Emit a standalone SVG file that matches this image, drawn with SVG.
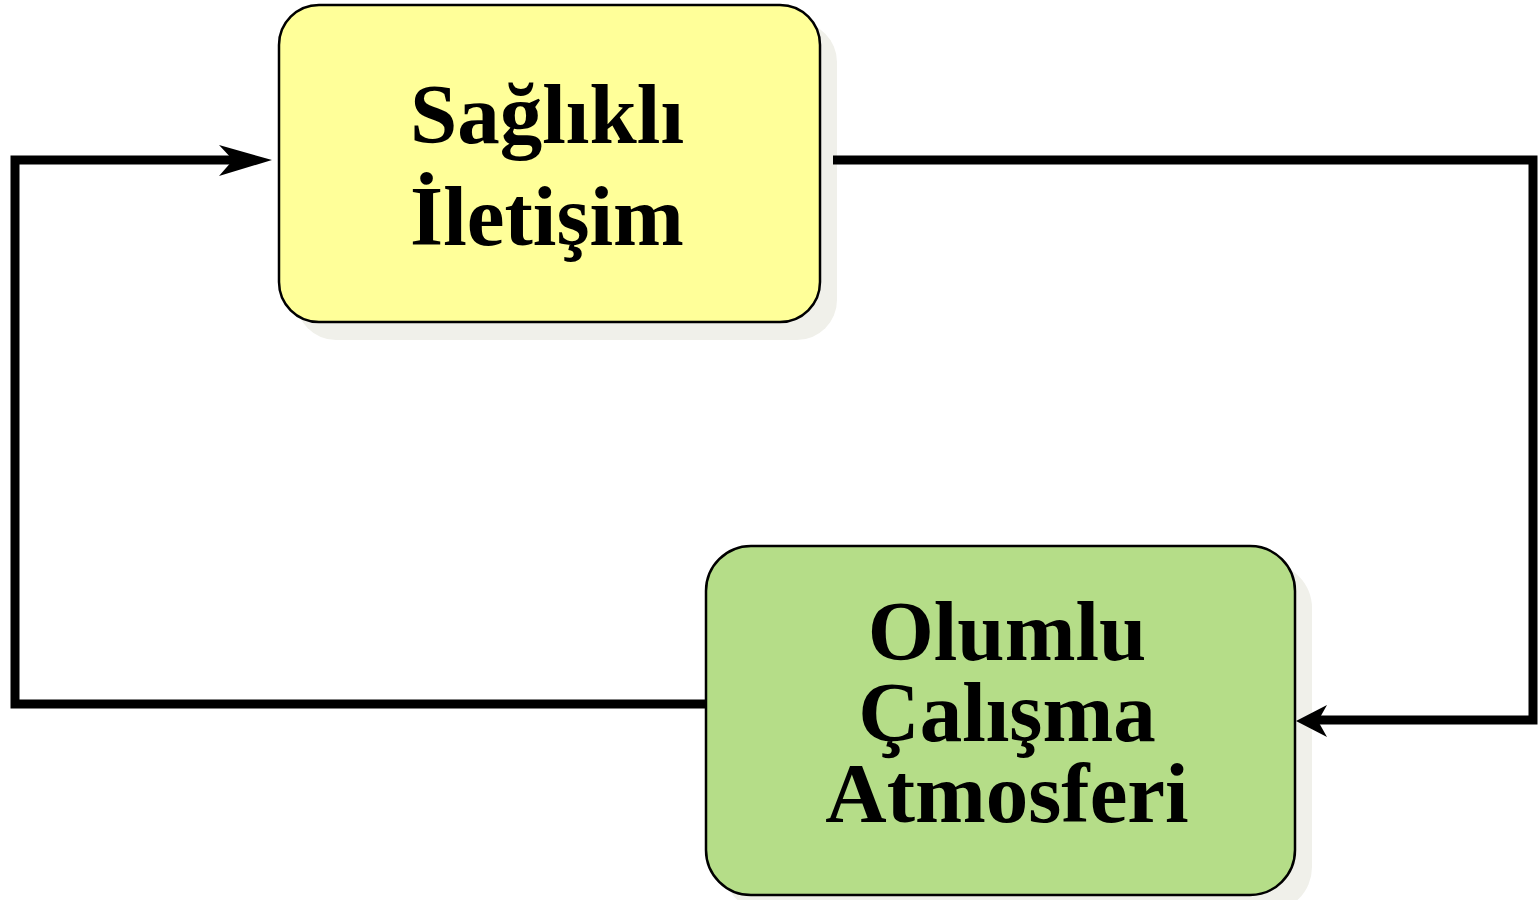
<svg xmlns="http://www.w3.org/2000/svg" width="1540" height="900" viewBox="0 0 1540 900">
  <defs>
    <style>
      .shadow { fill: #f0f0ea; stroke: none; }
      .box { stroke: #000; stroke-width: 2.5; }
      .label { font-family: "Liberation Serif", "Times New Roman", serif; font-weight: bold; font-size: 85px; fill: #000; text-anchor: middle; }
      .wire { fill: none; stroke: #000; stroke-width: 9; stroke-linejoin: miter; stroke-linecap: butt; }
      .head { fill: #000; stroke: none; }
    </style>
  </defs>

  <rect width="1540" height="900" fill="#fff"/>

  <!-- top node -->
  <g id="node-saglikli-iletisim">
    <rect class="shadow" x="296" y="22" width="541" height="318" rx="40"/>
    <rect class="box" x="279" y="5" width="541" height="317" rx="40" fill="#ffff99"/>
    <text class="label" x="547" y="143">Sağlıklı</text>
    <text class="label" x="547" y="245">İletişim</text>
  </g>

  <!-- bottom node -->
  <g id="node-olumlu-calisma">
    <rect class="shadow" x="723" y="563" width="589" height="349" rx="45"/>
    <rect class="box" x="706" y="546" width="589" height="349" rx="45" fill="#b5dd88"/>
    <text class="label" x="1007" y="660">Olumlu</text>
    <text class="label" x="1007" y="741">Çalışma</text>
    <text class="label" x="1007" y="822">Atmosferi</text>
  </g>

  <!-- connectors: feedback loop between the two nodes -->
  <g id="connectors">
    <path class="wire" d="M833,160 H1533 V720 H1316" />
    <path class="head" d="M1296,721 L1327,705 L1318,721 L1327,737 Z"/>
    <path class="wire" d="M706,704 H15 V160 H236" />
    <path class="head" d="M272,160 L219,145 L233,160 L219,176 Z"/>
  </g>
</svg>
